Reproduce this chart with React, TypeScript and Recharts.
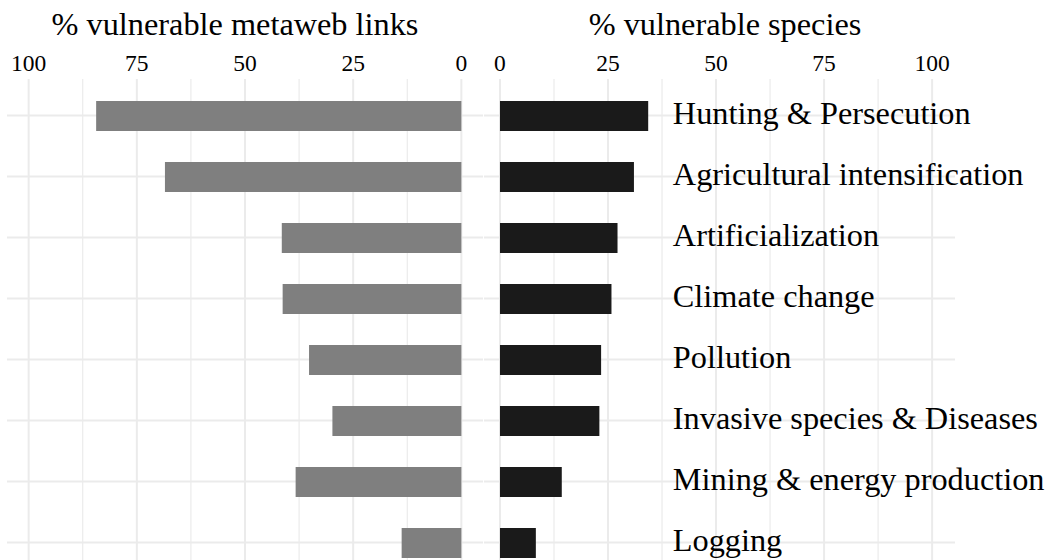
import { BarChart, Bar, XAxis, YAxis, CartesianGrid, LabelList } from "recharts";

const threats = [
  "Hunting & Persecution",
  "Agricultural intensification",
  "Artificialization",
  "Climate change",
  "Pollution",
  "Invasive species & Diseases",
  "Mining & energy production",
  "Logging",
];
const linksPct = [84.4, 68.5, 41.5, 41.3, 35.2, 29.8, 38.3, 13.8];
const speciesPct = [34.3, 31.0, 27.2, 25.8, 23.4, 23.0, 14.3, 8.3];
const majorTicks = [0, 25, 50, 75, 100];
const minorTicks = [12.5, 37.5, 62.5, 87.5];
const labelAt = 40;

const data = threats.map((t, i) => ({ threat: t, links: linksPct[i], species: speciesPct[i] }));

const font = "'Liberation Serif', 'Times New Roman', serif";
const grid = "#ebebeb";
const tickStyle = { fontSize: 23.5, fontFamily: font, fill: "#000" };

const ThreatLabel = (props: any) => {
  const { x, y, width, height, value, index } = props;
  const perUnit = width / value;
  return (
    <text
      x={x + perUnit * labelAt}
      y={y + height / 2}
      dy="0.25em"
      fontSize={32.3}
      fontFamily={font}
      fill="#000"
    >
      {threats[index]}
    </text>
  );
};

export default function App() {
  return (
    <div style={{ position: "fixed", top: 0, left: 0, width: 1053, height: 560, overflow: "hidden", background: "#fff" }}>
      <svg width={1053} height={60} style={{ position: "absolute", top: 0, left: 0 }}>
        <text x={235} y={35} textAnchor="middle" fontSize={32.3} fontFamily={font} fill="#000">
          % vulnerable metaweb links
        </text>
        <text x={725} y={35} textAnchor="middle" fontSize={32.3} fontFamily={font} fill="#000">
          % vulnerable species
        </text>
      </svg>

      <div style={{ position: "absolute", top: 0, left: 0 }}>
        <BarChart layout="vertical" width={484} height={579} data={data} margin={{ top: 0, right: 1, bottom: 0, left: 7 }}>
          <CartesianGrid stroke={grid} strokeWidth={1.2} horizontal={false} verticalValues={minorTicks} syncWithTicks />
          <CartesianGrid stroke={grid} strokeWidth={2} syncWithTicks />
          <XAxis
            type="number"
            orientation="top"
            reversed
            domain={[-5, 105]}
            ticks={majorTicks}
            height={79}
            tickSize={0}
            tickMargin={8}
            tickLine={false}
            axisLine={false}
            tick={tickStyle}
            interval={0}
          />
          <YAxis type="category" dataKey="threat" hide padding={{ top: 6, bottom: 6 }} />
          <Bar dataKey="links" fill="#7f7f7f" barSize={30} isAnimationActive={false} />
        </BarChart>
      </div>

      <div style={{ position: "absolute", top: 0, left: 484 }}>
        <BarChart layout="vertical" width={569} height={579} data={data} margin={{ top: 0, right: 98, bottom: 0, left: 0 }}>
          <CartesianGrid stroke={grid} strokeWidth={1.2} horizontal={false} verticalValues={minorTicks} syncWithTicks />
          <CartesianGrid stroke={grid} strokeWidth={2} syncWithTicks />
          <XAxis
            type="number"
            orientation="top"
            domain={[-3.7, 105.3]}
            ticks={majorTicks}
            height={79}
            tickSize={0}
            tickMargin={8}
            tickLine={false}
            axisLine={false}
            tick={tickStyle}
            interval={0}
          />
          <YAxis type="category" dataKey="threat" hide padding={{ top: 6, bottom: 6 }} />
          <Bar dataKey="species" fill="#1a1a1a" barSize={30} isAnimationActive={false}>
            <LabelList dataKey="species" content={ThreatLabel} />
          </Bar>
        </BarChart>
      </div>
    </div>
  );
}
